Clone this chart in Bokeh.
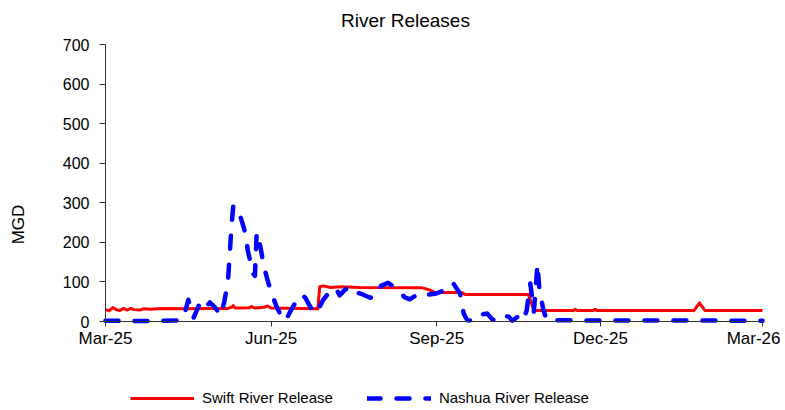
import math
import pandas as pd
from bokeh.plotting import figure
from bokeh.models import (Range1d, FixedTicker, DatetimeTickFormatter, Legend,
                          LegendItem, Label)
from bokeh.embed import file_html
from bokeh.resources import INLINE

# ---------------- data ----------------
swift_dates = [
    "2025-03-01", "2025-03-03", "2025-03-05", "2025-03-07", "2025-03-09",
    "2025-03-11", "2025-03-13", "2025-03-15", "2025-03-17", "2025-03-20",
    "2025-03-22", "2025-03-26", "2025-04-01", "2025-04-15", "2025-04-28",
    "2025-05-08", "2025-05-10", "2025-05-11", "2025-05-12", "2025-05-20",
    "2025-05-21", "2025-05-23", "2025-05-28", "2025-05-30", "2025-06-01",
    "2025-06-27", "2025-06-28", "2025-06-30", "2025-07-04", "2025-07-10",
    "2025-07-20", "2025-08-24", "2025-08-28", "2025-08-31", "2025-09-15",
    "2025-09-17", "2025-10-22", "2025-10-25", "2025-11-16", "2025-11-17",
    "2025-11-18", "2025-11-27", "2025-11-28", "2025-11-29", "2026-01-22",
    "2026-01-25", "2026-01-28", "2026-03-01",
]
swift_mgd = [
    30, 27, 35, 30, 28,
    33, 29, 33, 30, 29,
    32, 31, 33, 32, 33,
    33, 36, 40, 34, 35,
    38, 34, 36, 39, 34,
    32, 88, 90, 86, 88,
    86, 85, 80, 73, 73,
    68, 68, 28, 28, 31,
    28, 28, 31, 28, 28,
    47, 28, 28,
]

nashua_dates = [
    "2025-03-01", "2025-03-20", "2025-04-12", "2025-04-14", "2025-04-16",
    "2025-04-19", "2025-04-22", "2025-04-24", "2025-04-28", "2025-05-01",
    "2025-05-04", "2025-05-06", "2025-05-08", "2025-05-10", "2025-05-11",
    "2025-05-14", "2025-05-16", "2025-05-18", "2025-05-19", "2025-05-22",
    "2025-05-23", "2025-05-24", "2025-05-26", "2025-05-28", "2025-05-30",
    "2025-06-01", "2025-06-04", "2025-06-07", "2025-06-09", "2025-06-12",
    "2025-06-15", "2025-06-18", "2025-06-20", "2025-06-23", "2025-06-26",
    "2025-06-30", "2025-07-03", "2025-07-07", "2025-07-09", "2025-07-12",
    "2025-07-15", "2025-07-18", "2025-07-21", "2025-07-26", "2025-07-30",
    "2025-08-01", "2025-08-05", "2025-08-11", "2025-08-14", "2025-08-17",
    "2025-08-23", "2025-08-27", "2025-08-31", "2025-09-05", "2025-09-10",
    "2025-09-14", "2025-09-16", "2025-09-18", "2025-09-23", "2025-09-26",
    "2025-09-29", "2025-10-02", "2025-10-05", "2025-10-08", "2025-10-11",
    "2025-10-13", "2025-10-16", "2025-10-19", "2025-10-21", "2025-10-23",
    "2025-10-24", "2025-10-25", "2025-10-27", "2025-10-28", "2025-10-30",
    "2025-11-01", "2026-03-01",
]
nashua_mgd = [
    2, 1, 3, 20, 55,
    10, 42, 28, 48, 35,
    15, 50, 100, 240, 293,
    278, 250, 218, 180, 121,
    115, 225, 190, 140, 105,
    75, 38, 10, 2, 28,
    52, 68, 60, 35, 20,
    55, 72, 85, 66, 80,
    88, 74, 70, 60, 66,
    90, 98, 78, 62, 56,
    73, 68, 70, 78, 98,
    70, 20, 3, 2, 18,
    20, 5, 2, 15, 12,
    2, 12, 1, 28, 96,
    60, 25, 145, 85, 35,
    3, 2,
]

x_tick_dates = ["2025-03-01", "2025-06-01", "2025-09-01", "2025-12-01", "2026-03-01"]
y_ticks = [0, 100, 200, 300, 400, 500, 600, 700]

title_text = "River Releases"
y_label_text = "MGD"
series_names = ["Swift River Release", "Nashua River Release"]

# ---------------- layout (pixels) ----------------
FONT = "Liberation Sans"
W, H = 780, 410
PLOT_L, PLOT_R, PLOT_T, PLOT_B = 105, 762, 44, 321   # plot area edges on the canvas

t0 = pd.Timestamp(x_tick_dates[0])
t1 = pd.Timestamp(x_tick_dates[-1])
y0, y1 = y_ticks[0], y_ticks[-1]
DAY = pd.Timedelta(days=1)
px_per_day = (PLOT_R - PLOT_L) / ((t1 - t0) / DAY)
px_per_unit = (PLOT_B - PLOT_T) / (y1 - y0)

x_start = t0 - DAY * (PLOT_L / px_per_day)
x_end = t1 + DAY * ((W - PLOT_R) / px_per_day)
y_start = y0 - (H - PLOT_B) / px_per_unit
y_end = y1 + PLOT_T / px_per_unit

p = figure(
    width=W, height=H,
    output_backend="svg", toolbar_location=None,
    x_axis_type="datetime",
    x_range=Range1d(x_start, x_end),
    y_range=Range1d(y_start, y_end),
    min_border=0, min_border_left=0, min_border_right=0,
    min_border_top=0, min_border_bottom=0,
)
p.title.text = ""
p.outline_line_color = None
p.grid.visible = False
p.background_fill_color = "white"
p.border_fill_color = "white"

r_swift = p.line(x=pd.to_datetime(swift_dates), y=swift_mgd,
                 line_color="#FF0000", line_width=3, line_join="round")
r_nashua = p.line(x=pd.to_datetime(nashua_dates), y=nashua_mgd,
                  line_color="#0000FF", line_width=4.5, line_dash="13 16",
                  line_cap="round", line_join="round")

# axes, pinned to the plot area's edges
t0_ms = t0.value // 10**6
t1_ms = t1.value // 10**6
p.xaxis.ticker = FixedTicker(ticks=[pd.Timestamp(d).value // 10**6 for d in x_tick_dates])
fmt = "%b-%y"
p.xaxis.formatter = DatetimeTickFormatter(
    microseconds=fmt, milliseconds=fmt, seconds=fmt, minsec=fmt, minutes=fmt,
    hourmin=fmt, hours=fmt, days=fmt, months=fmt, years=fmt)
p.xaxis.fixed_location = y0
p.xaxis.bounds = (t0_ms, t1_ms)
p.yaxis.ticker = FixedTicker(ticks=y_ticks)
p.yaxis.fixed_location = t0_ms
p.yaxis.bounds = (y0, y1)

for ax in (p.xaxis[0], p.yaxis[0]):
    ax.axis_line_color = "#333333"
    ax.axis_line_width = 1
    ax.major_tick_line_color = "#333333"
    ax.major_tick_in = 0
    ax.minor_tick_line_color = None
    ax.major_label_text_font = FONT
    ax.major_label_text_color = "black"
p.xaxis.major_label_text_font_size = "17px"
p.yaxis.major_label_text_font_size = "16px"
p.xaxis.major_tick_out = 5
p.xaxis.major_label_standoff = 2
p.yaxis.major_tick_out = 6
p.yaxis.major_label_standoff = 10

# chart title and y-axis title (screen units from bottom-left of canvas)
p.add_layout(Label(x=405, y=H - 20, x_units="screen", y_units="screen",
                   text=title_text, text_align="center", text_baseline="middle",
                   text_font=FONT, text_font_size="19px", text_color="black"))
p.add_layout(Label(x=18, y=H - 224, x_units="screen", y_units="screen",
                   text=y_label_text, angle=math.pi / 2,
                   text_align="center", text_baseline="middle",
                   text_font=FONT, text_font_size="17px", text_color="black"))

legend = Legend(
    items=[LegendItem(label=series_names[0], renderers=[r_swift]),
           LegendItem(label=series_names[1], renderers=[r_nashua])],
    orientation="horizontal", location=(130, 4),
    padding=0, margin=0, spacing=34,
    glyph_width=64, glyph_height=16, label_height=16, label_standoff=8,
    border_line_color=None, background_fill_alpha=0,
    label_text_font=FONT, label_text_font_size="15px", label_text_color="black",
)
p.add_layout(legend)

open("out.html", "w").write(file_html(p, INLINE))
